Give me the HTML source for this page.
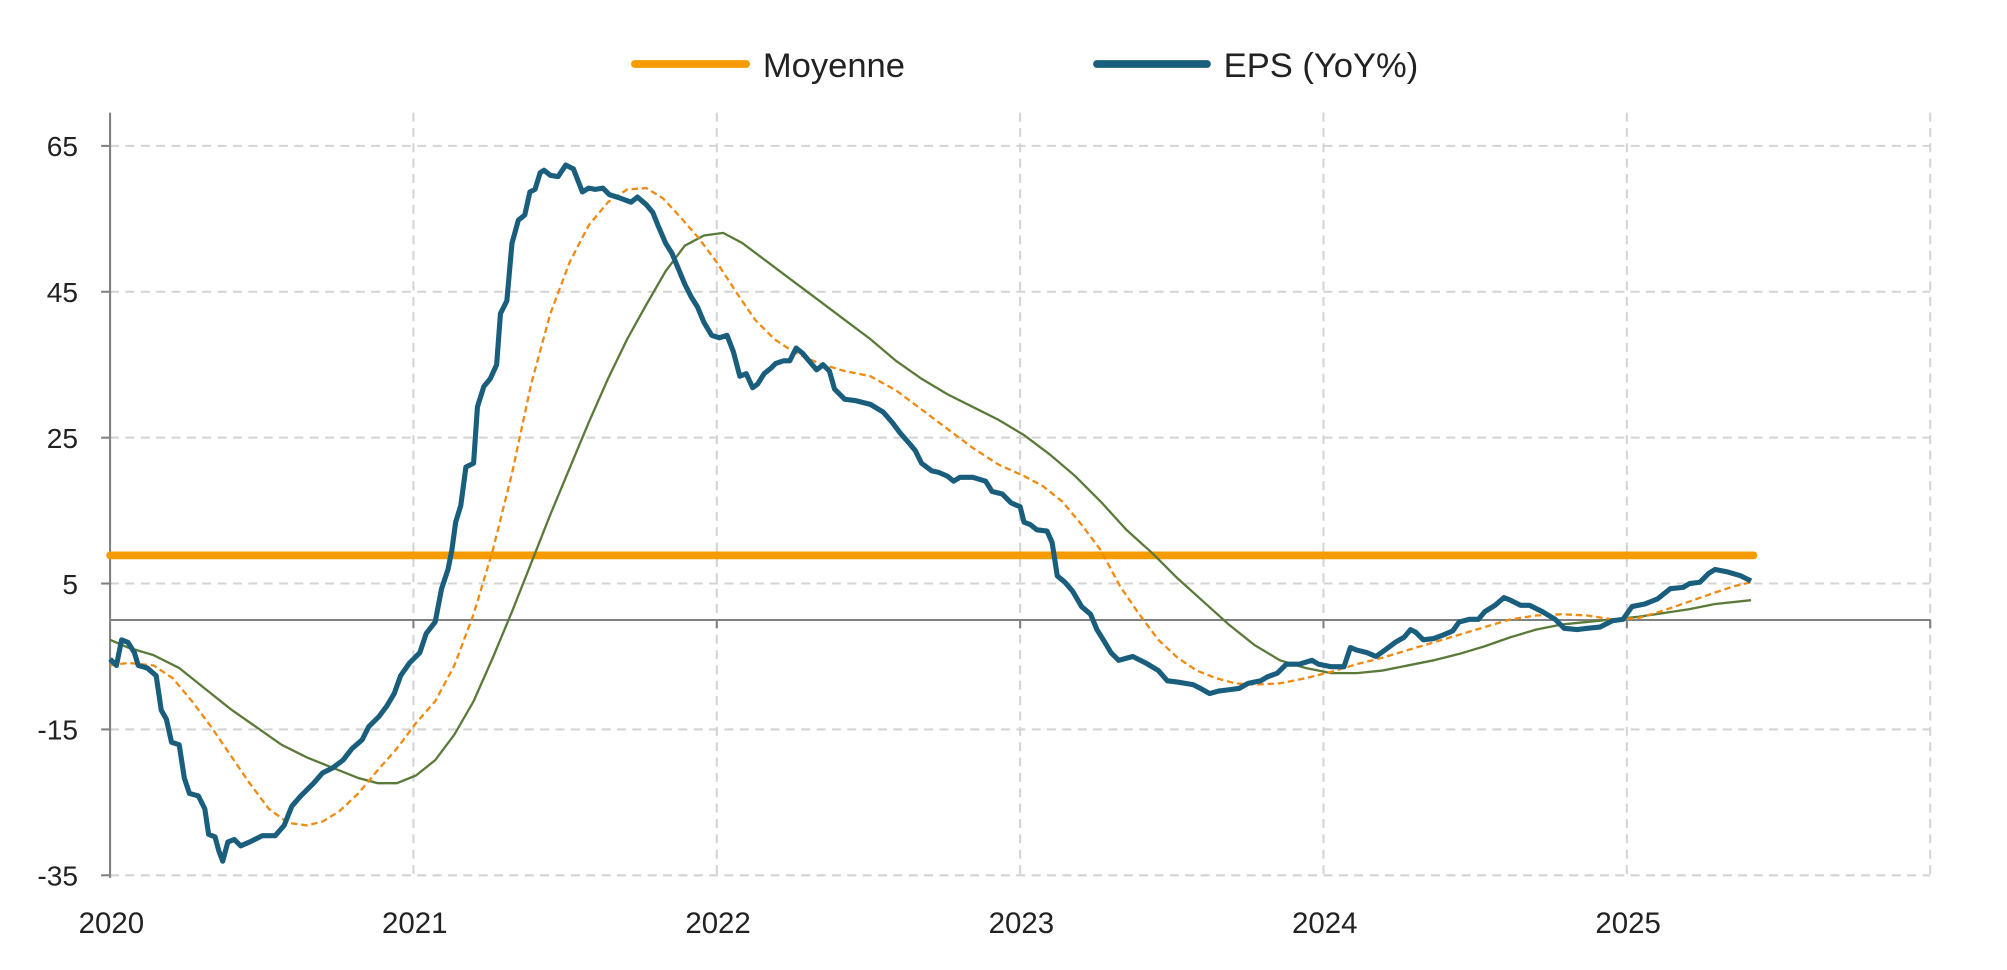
<!DOCTYPE html>
<html><head><meta charset="utf-8"><style>html,body{margin:0;padding:0;background:#fff}svg{display:block}</style></head><body>
<svg width="2007" height="970" viewBox="0 0 1568 758" preserveAspectRatio="none" xmlns="http://www.w3.org/2000/svg" font-family="'Liberation Sans', sans-serif">
<g stroke="#d4d4d4" stroke-width="1.6" stroke-dasharray="7,5" fill="none">
<line x1="86" y1="114" x2="1508" y2="114"/><line x1="86" y1="228" x2="1508" y2="228"/><line x1="86" y1="342" x2="1508" y2="342"/><line x1="86" y1="456" x2="1508" y2="456"/><line x1="86" y1="570" x2="1508" y2="570"/><line x1="86" y1="684" x2="1508" y2="684"/>
<line x1="323" y1="88" x2="323" y2="684"/><line x1="560" y1="88" x2="560" y2="684"/><line x1="797" y1="88" x2="797" y2="684"/><line x1="1034" y1="88" x2="1034" y2="684"/><line x1="1271" y1="88" x2="1271" y2="684"/><line x1="1508" y1="88" x2="1508" y2="684"/>
</g>
<g stroke="#808080" stroke-width="1.6">
<line x1="86" y1="88" x2="86" y2="686"/><line x1="86" y1="484.5" x2="1508" y2="484.5"/>
<line x1="79" y1="114" x2="86" y2="114"/><line x1="79" y1="228" x2="86" y2="228"/><line x1="79" y1="342" x2="86" y2="342"/><line x1="79" y1="456" x2="86" y2="456"/><line x1="79" y1="570" x2="86" y2="570"/><line x1="79" y1="684" x2="86" y2="684"/>
<line x1="323" y1="484" x2="323" y2="491"/><line x1="560" y1="484" x2="560" y2="491"/><line x1="797" y1="484" x2="797" y2="491"/><line x1="1034" y1="484" x2="1034" y2="491"/><line x1="1271" y1="484" x2="1271" y2="491"/><line x1="1508" y1="484" x2="1508" y2="491"/>
</g>
<g font-size="22" fill="#222" text-anchor="end">
<text x="61" y="122">65</text><text x="61" y="236">45</text><text x="61" y="350">25</text><text x="61" y="464">5</text><text x="61" y="578">-15</text><text x="61" y="692">-35</text>
</g>
<g font-size="23" fill="#222" text-anchor="middle">
<text x="87" y="729">2020</text><text x="324" y="729">2021</text><text x="561" y="729">2022</text><text x="798" y="729">2023</text><text x="1035" y="729">2024</text><text x="1272" y="729">2025</text>
</g>
<line x1="86" y1="434" x2="1370" y2="434" stroke="#f59c00" stroke-width="6" stroke-linecap="round"/>
<polyline fill="none" stroke="#5a7a3a" stroke-width="1.8" points="86,500 100,506 120,512 140,522 160,538 180,554 200,568 220,582 240,592 260,600 280,608 295,612 310,612 325,606 340,594 355,574 370,548 385,514 400,478 415,440 430,402 445,366 460,330 475,296 490,265 505,238 520,212 535,192 550,184 565,182 580,190 600,205 620,220 640,235 660,250 680,265 700,282 720,296 740,308 760,318 780,328 800,340 820,355 840,372 860,392 880,414 900,432 920,452 940,470 960,488 980,504 1000,516 1020,522 1040,526 1060,526 1080,524 1100,520 1120,516 1140,511 1160,505 1180,498 1200,492 1220,488 1240,486 1260,484 1280,482 1300,479 1320,476 1340,472 1368,469"/>
<polyline fill="none" stroke="#f08a10" stroke-width="1.8" stroke-dasharray="5,3" points="86,520 100,518 120,520 135,530 150,548 165,568 180,590 195,612 210,632 225,643 240,645 252,642 265,634 280,620 295,602 310,585 325,565 340,548 355,520 370,480 385,430 400,370 415,300 430,245 445,205 460,176 475,158 490,148 505,147 518,155 530,168 545,185 560,205 575,228 590,250 605,265 620,275 640,284 660,290 680,294 700,305 720,320 740,335 760,350 780,363 800,372 815,380 830,392 845,410 860,430 875,458 890,480 905,500 920,514 935,524 950,530 965,534 980,535 1000,534 1020,530 1040,525 1060,519 1080,514 1100,508 1120,502 1140,496 1160,490 1180,484 1200,481 1220,480 1240,481 1260,484 1280,483 1300,477 1320,470 1340,463 1355,458 1368,455"/>
<polyline fill="none" stroke="#1a5e7e" stroke-width="4" stroke-linejoin="round" points="86,515 91,520 95,500 100,502 105,510 108,520 115,522 122,528 126,555 130,562 134,580 140,582 144,608 148,620 155,622 160,632 163,652 168,654 171,665 174,673 178,658 183,656 188,661 195,658 205,653 215,653 222,645 228,630 235,622 245,612 252,604 260,600 268,594 275,585 283,578 288,568 296,560 302,552 308,542 313,528 320,518 328,510 333,495 340,486 345,460 350,445 353,430 356,408 360,395 364,365 370,362 373,318 378,302 383,296 388,285 391,245 396,235 400,190 405,172 410,168 414,150 418,148 422,135 425,133 430,137 436,138 442,129 448,132 455,150 460,147 465,148 471,147 476,152 485,155 493,158 498,154 505,160 510,166 514,176 520,190 525,198 530,210 535,222 540,232 545,240 550,252 556,262 562,264 568,262 573,275 578,294 583,292 588,303 592,300 597,292 602,288 606,284 612,282 617,282 622,272 627,276 632,282 638,289 643,285 648,290 652,304 660,312 668,313 680,316 690,322 697,330 703,338 710,346 715,352 720,362 728,368 733,369 740,372 745,376 750,373 760,373 770,376 775,384 783,386 790,393 797,396 800,408 805,410 810,414 818,415 822,424 826,450 832,455 838,462 845,474 852,480 857,492 862,500 868,510 874,516 885,513 895,518 905,524 912,532 920,533 932,535 938,538 945,542 952,540 960,539 968,538 975,534 985,532 990,529 998,526 1005,519 1015,519 1025,516 1030,519 1040,521 1050,521 1055,506 1060,508 1068,510 1075,513 1082,508 1090,502 1097,498 1102,492 1106,494 1112,500 1120,499 1128,496 1135,493 1140,486 1148,484 1155,484 1160,478 1168,473 1175,467 1180,469 1188,473 1195,473 1205,478 1215,484 1222,491 1232,492 1240,491 1250,490 1260,485 1268,484 1275,474 1285,472 1295,468 1305,460 1315,459 1320,456 1328,455 1335,448 1340,445 1350,447 1360,450 1368,454"/>
<line x1="496" y1="50" x2="583" y2="50" stroke="#f59c00" stroke-width="6" stroke-linecap="round"/>
<text x="596" y="60" font-size="27" fill="#222">Moyenne</text>
<line x1="857" y1="50" x2="943" y2="50" stroke="#1a5e7e" stroke-width="6" stroke-linecap="round"/>
<text x="956" y="60" font-size="27" fill="#222">EPS (YoY%)</text>
</svg>
</body></html>
